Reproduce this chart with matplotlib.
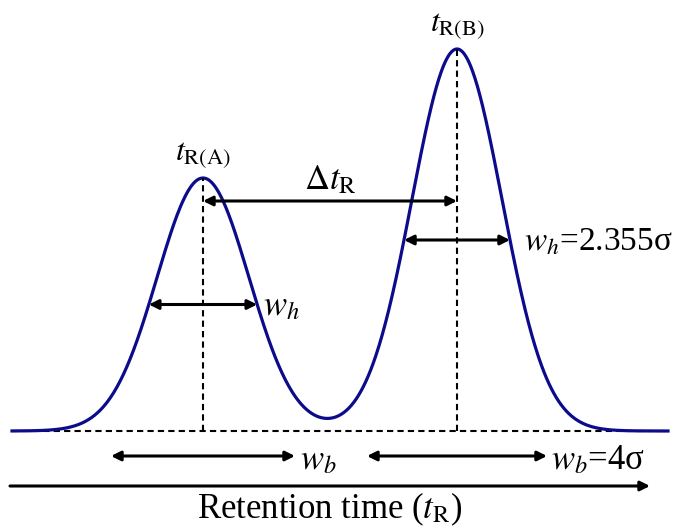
import numpy as np
import matplotlib.pyplot as plt

plt.rcParams['font.family'] = ['Liberation Serif', 'DejaVu Serif']
plt.rcParams['mathtext.fontset'] = 'stix'

# peak parameters (x in time units, y in signal units)
peak_names = ["A", "B"]
retention_times = [203, 457]
peak_heights = [253, 382]
peak_sigmas = [46, 45]

navy = "#0b0b8c"

fig = plt.figure(figsize=(6.81, 5.27), dpi=100)
ax = fig.add_axes([0, 0, 1, 1])
ax.set_xlim(0, 681)
ax.set_ylim(-96, 431)
ax.axis("off")

x = np.linspace(12, 668, 800)
y = np.zeros_like(x)
for t, h, s in zip(retention_times, peak_heights, peak_sigmas):
    y += h * np.exp(-0.5 * ((x - t) / s) ** 2)

# baseline and curve
ax.plot([12, 668], [0, 0], color="black", lw=1.5, ls=(0, (3, 2)))
ax.plot(x, y, color=navy, lw=2.3)

arrow = dict(arrowstyle="<|-|>", color="black", lw=2.2, mutation_scale=14, shrinkA=0, shrinkB=0)
single = dict(arrowstyle="-|>", color="black", lw=2.2, mutation_scale=14, shrinkA=0, shrinkB=0)

for name, t, h, s in zip(peak_names, retention_times, peak_heights, peak_sigmas):
    ax.plot([t, t], [0, h], color="black", lw=1.5, ls=(0, (3, 2)))
    ax.text(t, h + 8, r"$t_{\mathrm{R(%s)}}$" % name, ha="center", va="bottom", fontsize=23)
    # half height width
    half = 1.1775 * s
    ax.annotate("", xy=(t - half, h / 2), xytext=(t + half, h / 2), arrowprops=arrow)
    # base width
    ax.annotate("", xy=(t - 2 * s, -25), xytext=(t + 2 * s, -25), arrowprops=arrow)

tA, tB = retention_times
hA, hB = peak_heights
sA, sB = peak_sigmas

# labels
fs = 25
ax.text(tA + 1.1775 * sA + 6, hA / 2 - 2, r"$w_h$", ha="left", va="center", fontsize=fs)
ax.text(tB + 1.1775 * sB + 14, hB / 2 - 2, r"$w_h$=2.355σ", ha="left", va="center", fontsize=24)
ax.text(tA + 2 * sA + 5, -30, r"$w_b$", ha="left", va="center", fontsize=fs)
ax.text(tB + 2 * sB + 4, -30, r"$w_b$=4σ", ha="left", va="center", fontsize=fs)

# delta t_R
ax.annotate("", xy=(tA, 230), xytext=(tB, 230), arrowprops=arrow)
ax.text((tA + tB) / 2, 234, r"$\Delta t_{\mathrm{R}}$", ha="center", va="bottom", fontsize=fs)

# time axis
ax.annotate("", xy=(650, -55), xytext=(10, -55), arrowprops=single)
ax.text(330, -78, r"Retention time ($t_{\mathrm{R}}$)", ha="center", va="center", fontsize=fs)

fig.savefig("out.png", dpi=100)
